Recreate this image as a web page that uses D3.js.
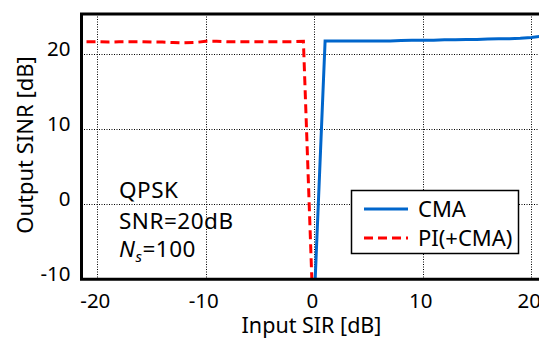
<!DOCTYPE html>
<html>
<head>
<meta charset="utf-8">
<script src="https://cdn.jsdelivr.net/npm/d3@7"></script>
<style>
  body { margin: 0; background: #fff; }
  svg { display: block; font-family: "Noto Sans", "Open Sans", sans-serif; }
</style>
</head>
<body>
<svg id="chart" width="539" height="338"></svg>
<script>
// input SIR [dB]
const cmaSir = [0, 1, 2, 3, 4, 5, 6, 7, 8, 9, 10, 11, 12, 13, 14, 15, 16, 17, 18, 19, 20, 21];
const cmaSinr = [-13, 21.8, 21.8, 21.8, 21.8, 21.8, 21.8, 21.8, 21.85, 21.9, 21.9, 21.9, 21.95, 21.95, 22.0, 22.0, 22.05, 22.1, 22.1, 22.15, 22.25, 22.45];
const piSir = [-21, -20, -19, -18, -17, -16, -15, -14, -13, -12, -11, -10, -9, -8, -7, -6, -5, -4, -3, -2, -1, 0];
const piSinr = [21.7, 21.7, 21.65, 21.7, 21.7, 21.7, 21.65, 21.65, 21.6, 21.55, 21.6, 21.75, 21.75, 21.7, 21.7, 21.7, 21.7, 21.7, 21.7, 21.7, 21.75, -19];
const xTicks = [-20, -10, 0, 10, 20];
const yTicks = [-10, 0, 10, 20];
const notes = ["QPSK", "SNR=20dB"];

const svg = d3.select("#chart");
const mLeft = 81.5, mRight = 547, mTop = 14, mBottom = 279.3;

const x = d3.scaleLinear().domain([-21.46, 21.46]).range([mLeft, mRight]);
const y = d3.scaleLinear().domain([-10, 25.4]).range([mBottom, mTop]);

svg.append("defs").append("clipPath").attr("id", "plotclip")
  .append("rect")
  .attr("x", mLeft).attr("y", mTop)
  .attr("width", mRight - mLeft).attr("height", mBottom - mTop);

// grid
const grid = svg.append("g")
  .attr("stroke", "#000")
  .attr("stroke-width", 1)
  .attr("stroke-dasharray", "1,1.5");
grid.selectAll(".gx").data(xTicks).enter().append("line")
  .attr("x1", d => Math.round(x(d)) + 0.5).attr("x2", d => Math.round(x(d)) + 0.5)
  .attr("y1", mTop).attr("y2", mBottom);
grid.selectAll(".gy").data(yTicks.filter(d => d > -10)).enter().append("line")
  .attr("y1", d => Math.round(y(d)) + 0.5).attr("y2", d => Math.round(y(d)) + 0.5)
  .attr("x1", mLeft).attr("x2", mRight);

// tick labels
svg.append("g").selectAll("text").data(xTicks).enter().append("text")
  .attr("x", d => x(d) - 2)
  .attr("y", mBottom + 29)
  .attr("text-anchor", "middle")
  .attr("font-size", 20.5)
  .text(d => d < 0 ? "-" + Math.abs(d) : d);
svg.append("g").selectAll("text").data(yTicks).enter().append("text")
  .attr("x", mLeft - 11)
  .attr("y", d => y(d) + 2)
  .attr("text-anchor", "end")
  .attr("font-size", 20.5)
  .text(d => d < 0 ? "-" + Math.abs(d) : d);

// axis titles
svg.append("text")
  .attr("x", 311.5).attr("y", 333)
  .attr("text-anchor", "middle")
  .attr("font-size", 21.5)
  .text("Input SIR [dB]");
svg.append("text")
  .attr("transform", "translate(33,145) rotate(-90)")
  .attr("text-anchor", "middle")
  .attr("font-size", 22)
  .text("Output SINR [dB]");

// series
const line = d3.line().x(d => x(d[0])).y(d => y(d[1]));
const plot = svg.append("g").attr("clip-path", "url(#plotclip)");
plot.append("path")
  .datum(d3.zip(cmaSir, cmaSinr))
  .attr("fill", "none")
  .attr("stroke", "#0066cc")
  .attr("stroke-width", 3)
  .attr("d", line);
plot.append("path")
  .datum(d3.zip(piSir, piSinr))
  .attr("fill", "none")
  .attr("stroke", "#ff0000")
  .attr("stroke-width", 3)
  .attr("stroke-dasharray", "9,5")
  .attr("d", line);

// frame
const frame = svg.append("g").attr("stroke", "#000").attr("stroke-width", 3).attr("fill", "none");
frame.append("path").attr("d", `M${mRight},${mTop}H${mLeft}V${mBottom}H${mRight}`);

// annotations
svg.selectAll(".note").data(notes).enter().append("text")
  .attr("x", 119)
  .attr("y", (d, i) => 198 + i * 31)
  .attr("font-size", 22.5)
  .attr("letter-spacing", 0.5)
  .text(d => d);
const ns = svg.append("text").attr("x", 119).attr("y", 257).attr("font-size", 22.5).attr("letter-spacing", 0.5);
ns.append("tspan").attr("font-style", "italic").text("N");
ns.append("tspan").attr("font-style", "italic").attr("font-size", 15).attr("dy", 5).text("s");
ns.append("tspan").attr("dy", -5).text("=100");

// legend
const legend = svg.append("g");
legend.append("rect")
  .attr("x", 351.5).attr("y", 190.5)
  .attr("width", 167).attr("height", 63)
  .attr("fill", "#fff").attr("stroke", "#000").attr("stroke-width", 1.5);
const items = [
  { name: "CMA", color: "#0066cc", dash: null },
  { name: "PI(+CMA)", color: "#ff0000", dash: "9,5" }
];
items.forEach((it, i) => {
  const cy = 209 + i * 29;
  legend.append("line")
    .attr("x1", 364).attr("x2", 408)
    .attr("y1", cy).attr("y2", cy)
    .attr("stroke", it.color).attr("stroke-width", 3)
    .attr("stroke-dasharray", it.dash);
  legend.append("text")
    .attr("x", 418).attr("y", cy + 8)
    .attr("font-size", 22)
    .text(it.name);
});
</script>
</body>
</html>
